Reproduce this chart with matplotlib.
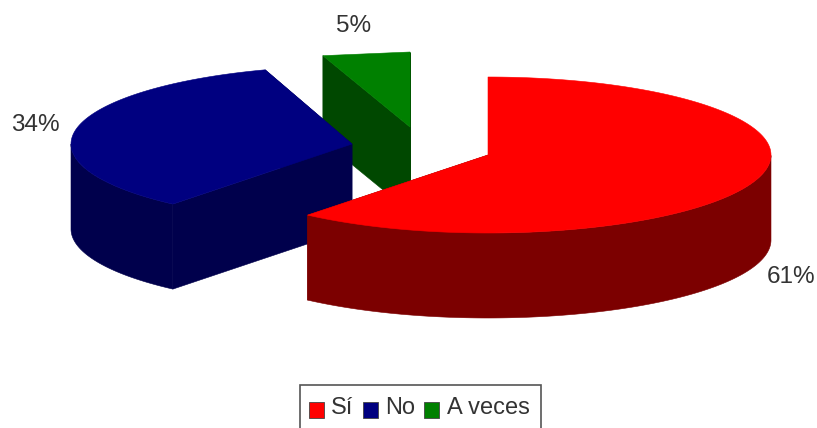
import numpy as np
import matplotlib
matplotlib.use('Agg')
import matplotlib.pyplot as plt
from matplotlib.patches import Rectangle

plt.rcParams['font.family'] = ['Liberation Sans', 'DejaVu Sans']

# Data
labels = ['Sí', 'No', 'A veces']
values = [61, 34, 5]
pct_labels = ['61%', '34%', '5%']

# Colours: top face, outer side, cut face
top_colors = ['#ff0000', '#000080', '#008000']
side_colors = ['#7c0000', '#00004c', '#004800']
text_color = '#333333'

# Pie geometry, in image pixels
rx = [283, 281, 282]
ry = [78, 78, 75]
depth = 85
centers = [(488, 155), (352, 144), (410, 127)]
rim_points = [300, 300, 2]  # the small slice has a flat rim in the original
label_pos = [(791, 277), (35, 125), (354, 26)]

W, H = 817, 428
fig = plt.figure(figsize=(W / 100, H / 100), dpi=100)
ax = fig.add_axes([0, 0, 1, 1])
ax.set_xlim(0, W)
ax.set_ylim(H, 0)
ax.axis('off')

edges = np.cumsum([0] + values) / sum(values) * 2 * np.pi

# back to front: green, blue, red
for i in [2, 1, 0]:
    cx, cy = centers[i]
    t = np.linspace(edges[i], edges[i + 1], rim_points[i])
    x = cx + rx[i] * np.sin(t)
    y = cy - ry[i] * np.cos(t)

    # cut faces along the two radii
    for k in [0, -1]:
        ax.fill([cx, x[k], x[k], cx], [cy, y[k], y[k] + depth, cy + depth],
                color=side_colors[i], lw=0.4, zorder=i * -3 + 1)

    # outer wall, only the part that faces the viewer
    front = np.cos(t) < 0
    if front.any():
        ax.fill(np.r_[x[front], x[front][::-1]],
                np.r_[y[front], y[front][::-1] + depth],
                color=side_colors[i], lw=0.4, zorder=i * -3 + 2)

    ax.fill(np.r_[cx, x], np.r_[cy, y], color=top_colors[i], lw=0.4,
            zorder=i * -3 + 3)

for (lx, ly), s in zip(label_pos, pct_labels):
    ax.text(lx, ly, s, fontsize=17.5, ha='center', va='center', color=text_color)

# Legend box, its bottom edge is cut off by the image
ax.add_patch(Rectangle((300, 385), 241, 50, fc='white', ec='#555555', lw=1.2, zorder=5))
swatch_x = [309, 363, 424]
text_x = [331, 385, 447]
for sx, tx, s, c in zip(swatch_x, text_x, labels, top_colors):
    ax.add_patch(Rectangle((sx, 402), 15, 16, fc=c, ec='#444444', lw=0.6, zorder=6))
    ax.text(tx, 408, s, fontsize=17, ha='left', va='center', color=text_color, zorder=6)

fig.savefig('out.png', dpi=100)
